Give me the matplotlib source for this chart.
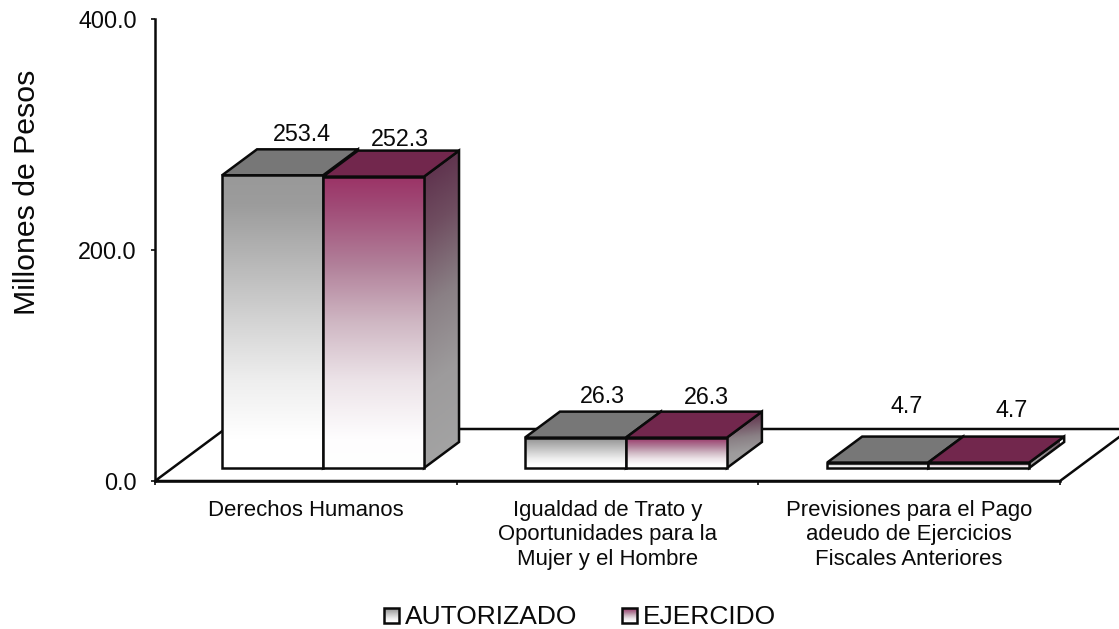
import numpy as np
import matplotlib
matplotlib.use("Agg")
import matplotlib.pyplot as plt
from matplotlib.patches import Polygon
from matplotlib.colors import LinearSegmentedColormap

plt.rcParams['font.family'] = ['Liberation Sans', 'DejaVu Sans']

categories = ["Derechos Humanos",
              "Igualdad de Trato y\nOportunidades para la\nMujer y el Hombre",
              "Previsiones para el Pago\nadeudo de Ejercicios\nFiscales Anteriores"]
series_names = ["AUTORIZADO", "EJERCIDO"]
autorizado = [253.4, 26.3, 4.7]
ejercido = [252.3, 26.3, 4.7]
y_ticks = [0, 200, 400]

W, H = 1119, 629
fig = plt.figure(figsize=(W / 100, H / 100), dpi=100, facecolor='white')
L, R, T, B = 155, 1060, 19, 481
ax = fig.add_axes([L / W, 1 - B / H, (R - L) / W, (B - T) / H])
ax.set_xlim(0, 3)
ax.set_ylim(0, 400)
ax.patch.set_alpha(0)
px_x = 3 / (R - L)
px_y = 400 / (B - T)

LW = 1.8
EK = '#0a0a0a'
TXT = '#0a0a0a'
for s in ('top', 'right'):
    ax.spines[s].set_visible(False)
for s in ('left', 'bottom'):
    ax.spines[s].set_linewidth(LW)
    ax.spines[s].set_color(EK)

# floor
fdx, fdy = 70 * px_x, 52 * px_y
floor = Polygon([(0, 0), (3, 0), (3 + fdx, fdy), (fdx, fdy)], closed=True,
                facecolor='white', edgecolor=EK, lw=LW, clip_on=False, zorder=1)
ax.add_patch(floor)

cm_gray = LinearSegmentedColormap.from_list('g', [(0, '#999999'), (0.1, '#9c9c9c'), (0.3, '#b8b8b8'),
                                                  (0.5, '#d4d4d4'), (0.7, '#eeeeee'), (0.9, '#ffffff'),
                                                  (1, '#ffffff')])
cm_red = LinearSegmentedColormap.from_list('r', [(0, '#9b3366'), (0.1, '#a04a76'), (0.3, '#b17f99'),
                                                 (0.5, '#cfb7c3'), (0.7, '#ece3e8'), (0.9, '#fefdfe'),
                                                 (1, '#ffffff')])
cm_side = LinearSegmentedColormap.from_list('s', [(0, '#592947'), (0.25, '#6f4d60'), (0.5, '#8a8085'),
                                                  (0.75, '#9d9b9c'), (1, '#a3a3a3')])
grad = np.linspace(0, 1, 256).reshape(-1, 1)
# side faces shade slightly along their width as well
side_y, side_x = np.mgrid[0:1:256j, 0:1:32j]
side_grad = np.clip(side_y + 0.08 * side_x, 0, 1)


def face(verts, cmap, z):
    verts = np.array(verts)
    patch = Polygon(verts, closed=True, facecolor='none', edgecolor=EK, lw=LW,
                    clip_on=False, zorder=z + 0.1, joinstyle='miter')
    ax.add_patch(patch)
    im = ax.imshow(side_grad, cmap=cmap, vmin=0, vmax=1, aspect='auto', origin='upper', zorder=z,
                   extent=(verts[:, 0].min(), verts[:, 0].max(), verts[:, 1].min(), verts[:, 1].max()),
                   interpolation='bilinear')
    im.set_clip_path(patch)


bw = 101 * px_x
base = 13 * px_y
dx, dy = 35 * px_x, 26 * px_y
offsets = [0.557, 0.561, 0.563]
label_dx = [[29.5, 26.5], [26.5, 29.5], [28.5, 32.5]]
label_dy = [[41, 37], [41, 40], [56, 52]]

for i in range(len(categories)):
    xc = i + offsets[i]
    for j, (vals, cmap, topc) in enumerate(((autorizado, cm_gray, '#777777'), (ejercido, cm_red, '#72274d'))):
        v = vals[i]
        x0 = xc - bw + j * bw
        x1 = x0 + bw
        y0, y1 = base, base + v
        z = 3 + j * 2
        # side
        face([(x1, y0), (x1 + dx, y0 + dy), (x1 + dx, y1 + dy), (x1, y1)], cm_side, z)
        # front
        bar = ax.bar(x0, v, width=bw, bottom=y0, align='edge', facecolor='none', edgecolor=EK,
                     lw=LW, zorder=z + 0.5, clip_on=False)[0]
        im = ax.imshow(grad, cmap=cmap, aspect='auto', origin='upper', zorder=z + 0.4,
                       extent=(x0, x1, y0, y1), interpolation='bilinear')
        im.set_clip_path(bar)
        # top
        ax.add_patch(Polygon([(x0, y1), (x1, y1), (x1 + dx, y1 + dy), (x0 + dx, y1 + dy)], closed=True,
                             facecolor=topc, edgecolor=EK, lw=LW, zorder=z + 0.3, clip_on=False))
        ax.annotate(f"{v:.1f}", xy=(x0 + bw / 2, y1),
                    xytext=(label_dx[i][j] * 0.72, label_dy[i][j] * 0.72),
                    textcoords='offset points', ha='center', va='center', fontsize=16.8,
                    color=TXT, zorder=20, annotation_clip=False)

ax.set_xlim(0, 3)
ax.set_ylim(0, 400)
ax.set_xticks([0, 1, 2, 3])
ax.set_xticklabels([])
ax.set_xticks([0.5, 1.5, 2.5], minor=True)
ax.set_xticklabels(categories, minor=True, fontsize=15.9, color=TXT, linespacing=1.22)
ax.tick_params(axis='x', which='minor', length=0, pad=13.5)
ax.tick_params(axis='x', which='major', length=3, width=1.2, color=EK)
ax.set_yticks(y_ticks)
ax.set_yticklabels([f"{t:.1f}" for t in y_ticks], fontsize=16.8, color=TXT)
ax.tick_params(axis='y', length=3, width=1.2, color=EK, pad=10)
ax.set_ylabel("Millones de Pesos", fontsize=21.8, color=TXT, va='center')
ax.yaxis.set_label_coords((27 - L) / (R - L), (B - 192) / (B - T))

# legend, in figure pixel space
lg = fig.add_axes([0, 0, 1, 1])
lg.set_xlim(0, W)
lg.set_ylim(H, 0)
lg.axis('off')
lg.patch.set_alpha(0)
for x, name, cmap in ((384, series_names[0], cm_gray), (622, series_names[1], cm_red)):
    lg.imshow(grad, cmap=cmap, aspect='auto', origin='upper', extent=(x, x + 15, 623, 608), zorder=2)
    lg.add_patch(Polygon([(x, 608), (x + 15, 608), (x + 15, 623), (x, 623)], closed=True,
                         facecolor='none', edgecolor=EK, lw=LW, zorder=3))
    lg.text(x + 21, 617, name, fontsize=19, va='center', ha='left', color=TXT)
lg.set_xlim(0, W)
lg.set_ylim(H, 0)

fig.savefig('out.png', dpi=100, facecolor='white')
